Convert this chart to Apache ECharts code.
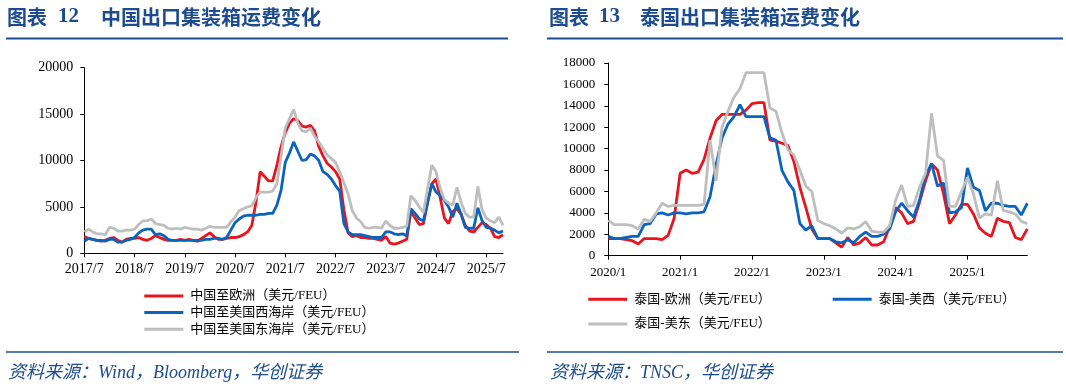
<!DOCTYPE html>
<html>
<head>
<meta charset="utf-8">
<script src="https://cdn.jsdelivr.net/npm/echarts@6.0.0/dist/echarts.min.js"></script>
<style>
html,body{margin:0;padding:0;background:#fff;}
#c{width:1066px;height:388px;}
</style>
</head>
<body>
<div id="c"></div>
<script>
// ---------- Chart 12: China export container freight (monthly, 2017/7 - 2025/11) ----------
const cnStart = [2017, 7], cnEnd = [2025, 11];
const cnCategories = [];
for (let y = cnStart[0], m = cnStart[1]; y < cnEnd[0] || (y === cnEnd[0] && m <= cnEnd[1]); m++) {
  if (m > 12) { m = 1; y++; }
  cnCategories.push(y + '/' + m);
}
const cnTickLabels = ['2017/7','2018/7','2019/7','2020/7','2021/7','2022/7','2023/7','2024/7','2025/7'];

const cnEurope = [
  1800,1600,1500,1400,1300,1400, 1600,1700,1400,1200,1500,1600,
  1600,1700,1500,1400,1600,1900, 1700,1500,1400,1400,1400,1500,
  1400,1500,1400,1300,1600,1900, 2200,1800,1500,1500,1600,1700,
  1700,1800,2000,2300,3000,5500, 8800,8300,7800,7800,9500,11500,
  13000,14000,14500,14300,13700,13600, 13800,13200,11500,10500,9700,9300,
  8800,8000,4700,2200,1800,1900, 1700,1700,1600,1600,1500,1400,
  1800,1100,1000,1100,1300,1500, 4500,3800,3100,3200,5500,7500,
  8000,6000,3800,3200,4500,4800, 4200,3000,2400,2300,2800,3300,
  3100,2700,1800,1700,2000
];
const cnUSWest = [
  1300,1600,1500,1400,1400,1300, 1500,1500,1200,1200,1400,1500,
  1700,2200,2500,2600,2600,2000, 2100,1900,1500,1400,1400,1400,
  1400,1400,1400,1400,1400,1500, 1500,1600,1600,1500,1700,2500,
  3300,3700,4000,4100,4100,4100, 4200,4200,4300,4300,5200,6800,
  9800,10800,12000,11000,10000,10100, 10700,10500,10000,8800,8500,8000,
  7300,6700,3200,2300,2000,2000, 2000,1900,1800,1700,1700,1700,
  2300,2300,2100,2000,2100,1900, 4800,4300,3700,3500,5500,7500,
  6600,6200,5700,5000,3900,5400, 4200,2800,2700,2700,4900,3500,
  2800,2700,2500,2200,2400
];
const cnUSEast = [
  2300,2600,2300,2100,2100,2000, 2800,2700,2400,2400,2500,2500,
  2600,3100,3500,3500,3700,3200, 3100,3000,2700,2600,2700,2600,
  2800,2700,2600,2600,2500,2700, 2900,2800,2800,2800,2800,3400,
  3900,4600,4800,5000,5100,6000, 6600,6600,6600,6700,7500,10500,
  13500,14500,15500,14000,13200,13100, 13500,12600,12000,11300,10600,10200,
  9800,8800,7600,6400,4600,3800, 3400,2800,2700,2800,2800,2700,
  3500,3000,2700,2700,2800,2900, 6200,5700,5000,4400,7000,9500,
  8800,7000,5800,5400,5200,7100, 5500,4300,3900,3900,7200,4700,
  3800,3500,3300,3900,3000
];

// ---------- Chart 13: Thailand export container freight (monthly, 2020/1 - 2025/11) ----------
const thStart = [2020, 1], thEnd = [2025, 11];
const thCategories = [];
for (let y = thStart[0], m = thStart[1]; y < thEnd[0] || (y === thEnd[0] && m <= thEnd[1]); m++) {
  if (m > 12) { m = 1; y++; }
  thCategories.push(y + '/' + m);
}
const thTickLabels = ['2020/1','2021/1','2022/1','2023/1','2024/1','2025/1'];

const thEurope = [
  1600,1600,1600,1500,1400,1100, 1600,1600,1600,1500,1900,3500,
  7700,8000,7700,7800,9000,11000, 12600,13200,13200,13200,13200,13600,
  14200,14300,14300,10800,10700,10500, 10300,8800,6400,4500,2500,1600,
  1600,1600,1200,800,1700,1000, 1200,1700,1000,1000,1300,2700,
  4500,4000,3000,3200,5000,7000, 8600,8000,5800,3000,3800,4800,
  4800,3900,2600,2100,1800,3500, 3200,3100,1700,1500,2500
];
const thUSWest = [
  1800,1600,1600,1700,1800,1800, 2900,3000,3900,4000,3800,4000,
  4000,3900,4000,4000,4100,5500, 8500,11000,12300,13000,14100,13000,
  13000,13000,13000,11000,10800,8000, 6900,6100,3000,2400,2800,1600,
  1600,1600,1300,1200,1500,1200, 1800,2200,1800,1800,2000,2500,
  4100,4900,4200,3600,5200,7500, 8600,6500,6800,4000,4100,4500,
  8200,6400,6100,4200,4900,4900, 4700,4600,4600,3800,4900
];
const thUSEast = [
  3300,2900,2900,2900,2800,2500, 3400,3200,4000,4900,4600,4700,
  4700,4700,4700,4700,4800,10800, 7000,12000,13500,14800,15600,17100,
  17100,17100,17100,13800,13500,11500, 9900,9400,8000,6500,6000,3300,
  3000,2800,2500,2100,2600,2500, 2700,3200,2300,2200,2200,2800,
  5200,6600,4600,4700,6400,7700, 13300,9300,8900,4600,4600,6000,
  7300,5800,3500,3900,3800,7000, 4200,4100,3900,3200,3000
];

const cnNames = ['中国至欧洲（美元/FEU）', '中国至美国西海岸（美元/FEU）', '中国至美国东海岸（美元/FEU）'];
const thNames = ['泰国-欧洲（美元/FEU）', '泰国-美西（美元/FEU）', '泰国-美东（美元/FEU）'];
const colors = ['#E8141E', '#0A64BE', '#BEBEBE'];

const NAVY = '#1C4C8F';
const SERIF = '"Liberation Serif", "Times New Roman", "Noto Sans CJK SC", serif';
const CJK = '"Noto Sans CJK SC", sans-serif';
const LEG_FONT = '"Liberation Serif", "Noto Sans CJK SC", serif';

function yearTick(cats, labels) {
  return function (idx) { return labels.indexOf(cats[idx]) !== -1; };
}

function xAxis(gridIndex, cats, labels, fontSize, margin) {
  return {
    type: 'category', gridIndex: gridIndex, data: cats, boundaryGap: false,
    axisLine: { show: true, lineStyle: { color: '#000', width: 1 } },
    axisTick: { show: true, length: 4, interval: yearTick(cats, labels), lineStyle: { color: '#000' } },
    axisLabel: { interval: yearTick(cats, labels), color: '#000', fontFamily: SERIF, fontSize: fontSize, margin: margin },
    splitLine: { show: false }
  };
}
function yAxis(gridIndex, max, interval, fontSize, margin) {
  return {
    type: 'value', gridIndex: gridIndex, min: 0, max: max, interval: interval,
    axisLine: { show: true, lineStyle: { color: '#000', width: 1 } },
    axisTick: { show: true, length: 4, lineStyle: { color: '#000' } },
    axisLabel: { color: '#000', fontFamily: SERIF, fontSize: fontSize, margin: margin,
      formatter: function (v) { return String(v); } },
    splitLine: { show: false }
  };
}
function lineSeries(name, data, color, axisIdx) {
  return {
    name: name, type: 'line', data: data, xAxisIndex: axisIdx, yAxisIndex: axisIdx,
    symbol: 'none', showSymbol: false, smooth: false,
    lineStyle: { color: color, width: 2.8 }, itemStyle: { color: color },
    emphasis: { disabled: true }
  };
}
function legend(names, left, top) {
  return {
    data: names, left: left, top: top, orient: 'vertical',
    icon: 'rect', itemWidth: 39, itemHeight: 3, itemGap: 3.6,
    padding: 0, selectedMode: false,
    textStyle: { color: '#000', fontSize: 13, lineHeight: 12.3, fontFamily: LEG_FONT, padding: [0, 0, 0, 2] }
  };
}
function txt(x, y, text, font, fill) {
  return { type: 'text', x: x, y: y, silent: true,
    style: { text: text, font: font, fill: fill, verticalAlign: 'middle', textAlign: 'left' } };
}
function hline(x1, x2, y, w) {
  return { type: 'line', silent: true, shape: { x1: x1, y1: y, x2: x2, y2: y },
    style: { stroke: NAVY, lineWidth: w } };
}

const chart = echarts.init(document.getElementById('c'), null, { renderer: 'canvas' });
chart.setOption({
  animation: false,
  backgroundColor: '#fff',
  grid: [
    { left: 84.3, top: 67.7, width: 418.7, height: 185.6, containLabel: false, outerBoundsMode: 'none' },
    { left: 608.3, top: 63, width: 419, height: 192.7, containLabel: false, outerBoundsMode: 'none' }
  ],
  xAxis: [ xAxis(0, cnCategories, cnTickLabels, 14, 9), xAxis(1, thCategories, thTickLabels, 13, 10) ],
  yAxis: [ yAxis(0, 20000, 5000, 14, 11), yAxis(1, 18000, 2000, 13, 13) ],
  legend: [
    legend(cnNames, 144.3, 289.5),
    legend([thNames[0]], 588.3, 292.8),
    legend([thNames[1]], 832.7, 292.8),
    legend([thNames[2]], 588.3, 317.5)
  ],
  series: [
    lineSeries(cnNames[0], cnEurope, colors[0], 0),
    lineSeries(cnNames[1], cnUSWest, colors[1], 0),
    lineSeries(cnNames[2], cnUSEast, colors[2], 0),
    lineSeries(thNames[0], thEurope, colors[0], 1),
    lineSeries(thNames[1], thUSWest, colors[1], 1),
    lineSeries(thNames[2], thUSEast, colors[2], 1)
  ],
  graphic: [
    txt(7, 17, '图表', 'bold 20px ' + CJK, NAVY),
    txt(58, 17, '12', 'bold 21px ' + SERIF, NAVY),
    txt(101, 17, '中国出口集装箱运费变化', 'bold 20px ' + CJK, NAVY),
    hline(6, 508, 38.5, 2),
    txt(549, 17, '图表', 'bold 20px ' + CJK, NAVY),
    txt(599, 17, '13', 'bold 21px ' + SERIF, NAVY),
    txt(640, 17, '泰国出口集装箱运费变化', 'bold 20px ' + CJK, NAVY),
    hline(547, 1063, 38.5, 2),
    hline(6, 519, 352, 1.6),
    hline(547, 1063, 352, 1.6),
    txt(8, 373, '资料来源：Wind，Bloomberg，华创证券', 'italic 18px ' + SERIF, NAVY),
    txt(550, 373, '资料来源：TNSC，华创证券', 'italic 18px ' + SERIF, NAVY)
  ]
});
</script>
</body>
</html>
